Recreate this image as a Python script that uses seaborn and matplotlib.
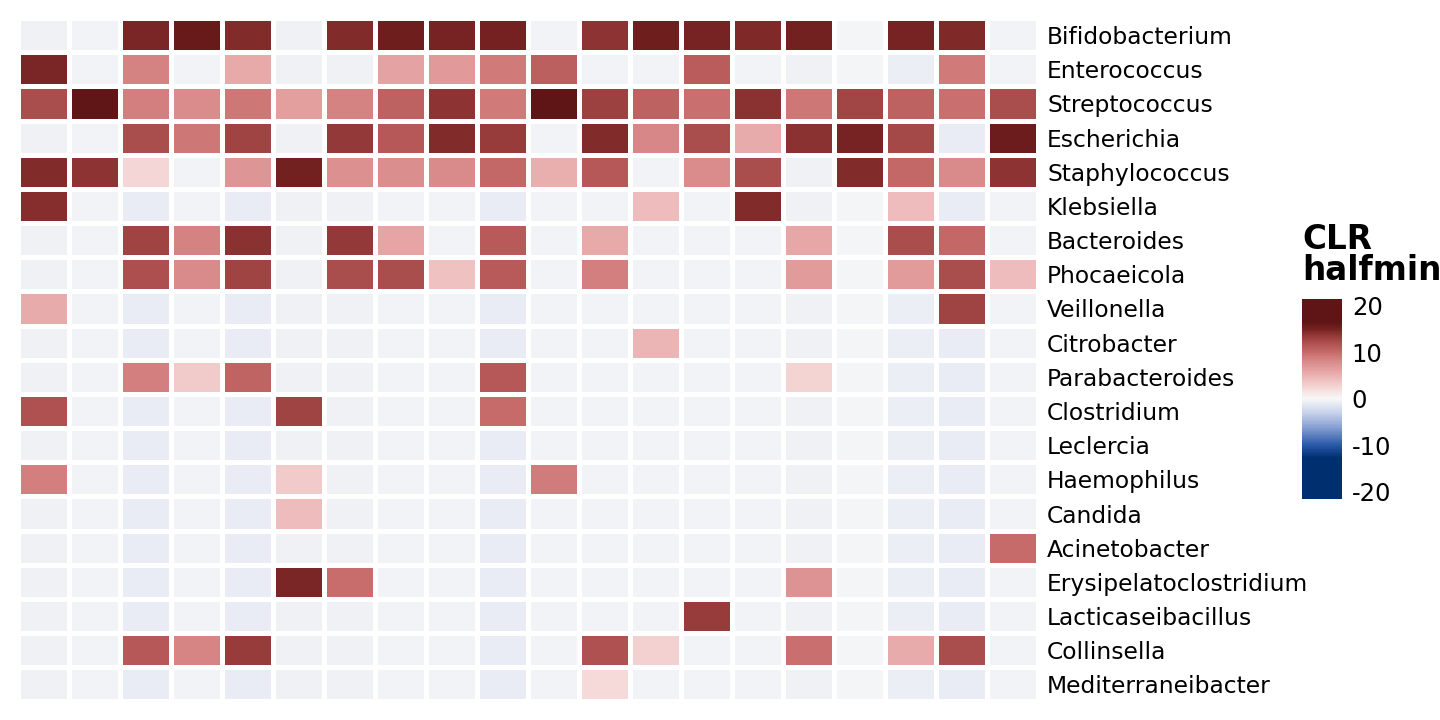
import numpy as np
import pandas as pd
import seaborn as sns
import matplotlib.pyplot as plt
from matplotlib.colors import LinearSegmentedColormap

genera = ["Bifidobacterium", "Enterococcus", "Streptococcus", "Escherichia",
          "Staphylococcus", "Klebsiella", "Bacteroides", "Phocaeicola",
          "Veillonella", "Citrobacter", "Parabacteroides", "Clostridium",
          "Leclercia", "Haemophilus", "Candida", "Acinetobacter",
          "Erysipelatoclostridium", "Lacticaseibacillus", "Collinsella",
          "Mediterraneibacter"]

# CLR (half-min zero replacement) per sample, 20 samples
bifidobacterium = [-0.6, -0.5, 14.7, 15.9, 14.3, -0.6, 14.3, 15.4, 14.9, 15.0, -0.5, 13.9, 15.3, 14.9, 14.6, 15.2, -0.3, 14.9, 14.5, -0.5]
enterococcus = [14.7, -0.5, 8.5, -0.5, 5.6, -0.6, -0.6, 6.2, 6.8, 9.0, 10.9, -0.5, -0.5, 11.0, -0.5, -0.6, -0.3, -0.7, 9.0, -0.5]
streptococcus = [12.1, 16.4, 8.6, 7.8, 9.1, 6.5, 8.5, 10.6, 13.8, 9.0, 21.5, 13.1, 10.6, 9.6, 14.0, 9.1, 12.7, 10.6, 9.7, 12.2]
escherichia = [-0.6, -0.5, 12.2, 9.1, 12.9, -0.6, 13.6, 11.3, 14.3, 13.4, -0.5, 14.3, 8.1, 12.2, 5.4, 14.0, 14.9, 12.5, -0.9, 15.5]
staphylococcus = [14.4, 13.8, 2.5, -0.5, 7.2, 15.2, 7.4, 7.6, 8.0, 10.2, 5.3, 11.4, -0.5, 7.8, 12.1, -0.6, 14.3, 10.2, 8.0, 13.9]
klebsiella = [14.2, -0.5, -1.0, -0.5, -1.0, -0.6, -0.6, -0.5, -0.5, -1.0, -0.5, -0.5, 4.3, -0.45, 14.3, -0.6, -0.3, 4.3, -0.9, -0.5]
bacteroides = [-0.6, -0.5, 12.8, 8.4, 14.1, -0.6, 13.5, 6.0, -0.5, 11.1, -0.5, 5.6, -0.5, -0.45, -0.5, 5.8, -0.3, 12.1, 10.2, -0.5]
phocaeicola = [-0.6, -0.5, 12.0, 7.9, 12.9, -0.6, 12.1, 12.2, 4.0, 11.1, -0.5, 8.6, -0.5, -0.45, -0.5, 6.7, -0.3, 6.7, 12.1, 4.3]
veillonella = [5.5, -0.5, -1.0, -0.5, -1.0, -0.6, -0.6, -0.5, -0.5, -1.0, -0.5, -0.5, -0.5, -0.45, -0.5, -0.6, -0.3, -0.7, 12.9, -0.5]
citrobacter = [-0.6, -0.5, -1.0, -0.5, -1.0, -0.6, -0.6, -0.5, -0.5, -1.0, -0.5, -0.5, 4.8, -0.45, -0.5, -0.6, -0.3, -0.7, -0.9, -0.5]
parabacteroides = [-0.6, -0.5, 8.6, 3.2, 10.5, -0.6, -0.6, -0.5, -0.5, 11.3, -0.5, -0.5, -0.5, -0.45, -0.5, 2.6, -0.3, -0.7, -0.9, -0.5]
clostridium = [11.8, -0.5, -1.0, -0.5, -1.0, 12.9, -0.6, -0.5, -0.5, 10.0, -0.5, -0.5, -0.5, -0.45, -0.5, -0.6, -0.3, -0.7, -0.9, -0.5]
leclercia = [-0.6, -0.5, -1.0, -0.5, -1.0, -0.6, -0.6, -0.5, -0.5, -1.0, -0.5, -0.5, -0.5, -0.45, -0.5, -0.6, -0.3, -0.7, -0.9, -0.5]
haemophilus = [8.6, -0.5, -1.0, -0.5, -1.0, 3.2, -0.6, -0.5, -0.5, -1.0, 8.8, -0.5, -0.5, -0.45, -0.5, -0.6, -0.3, -0.7, -0.9, -0.5]
candida = [-0.6, -0.5, -1.0, -0.5, -1.0, 4.3, -0.6, -0.5, -0.5, -1.0, -0.5, -0.5, -0.5, -0.45, -0.5, -0.6, -0.3, -0.7, -0.9, -0.5]
acinetobacter = [-0.6, -0.5, -1.0, -0.5, -1.0, -0.6, -0.6, -0.5, -0.5, -1.0, -0.5, -0.5, -0.5, -0.45, -0.5, -0.6, -0.3, -0.7, -0.9, 10.0]
erysipelatoclostridium = [-0.6, -0.5, -1.0, -0.5, -1.0, 14.7, 9.8, -0.5, -0.5, -1.0, -0.5, -0.5, -0.5, -0.45, -0.5, 7.3, -0.3, -0.7, -0.9, -0.5]
lacticaseibacillus = [-0.6, -0.5, -1.0, -0.5, -1.0, -0.6, -0.6, -0.5, -0.5, -1.0, -0.5, -0.5, -0.5, 13.3, -0.5, -0.6, -0.3, -0.7, -0.9, -0.5]
collinsella = [-0.6, -0.5, 11.4, 8.3, 13.4, -0.6, -0.6, -0.5, -0.5, -1.0, -0.5, 11.8, 2.8, -0.45, -0.5, 9.7, -0.3, 5.5, 12.1, -0.5]
mediterraneibacter = [-0.6, -0.5, -1.0, -0.5, -1.0, -0.6, -0.6, -0.5, -0.5, -1.0, -0.5, 2.1, -0.5, -0.45, -0.5, -0.6, -0.3, -0.7, -0.9, -0.5]

rows = [bifidobacterium, enterococcus, streptococcus, escherichia, staphylococcus,
        klebsiella, bacteroides, phocaeicola, veillonella, citrobacter,
        parabacteroides, clostridium, leclercia, haemophilus, candida,
        acinetobacter, erysipelatoclostridium, lacticaseibacillus, collinsella,
        mediterraneibacter]
df = pd.DataFrame(rows, index=genera, columns=[f"S{i+1}" for i in range(20)])

lim = 21.5
stops = [(-21.5, "#002f70"), (-12.8, "#002f70"), (-10, "#2a58a8"), (-6, "#8ba3d3"),
         (-3, "#c8d2eb"), (0, "#f8f8f8"), (2, "#f6dcdc"), (4, "#efc0c0"),
         (6, "#e6a4a4"), (8, "#d98a8a"), (10, "#c76a6a"), (12, "#ae5050"),
         (13.5, "#963a3a"), (15, "#762222"), (16.5, "#5f1415"), (21.5, "#5f1415")]
cmap = LinearSegmentedColormap.from_list(
    "bluered", [((v + lim) / (2 * lim), c) for v, c in stops])

sns.set_style("white")
plt.rcParams['font.family'] = ['DejaVu Sans']
plt.rcParams['axes.unicode_minus'] = False
plt.rcParams['text.color'] = 'black'

fig = plt.figure(figsize=(14.4, 7.2), dpi=100)
ax = fig.add_axes([0.0125, 0.0257, 0.708, 0.9493])
cax = fig.add_axes([0.9042, 0.3074, 0.0278, 0.2778])

sns.heatmap(df, ax=ax, cmap=cmap, vmin=-lim, vmax=lim, linewidths=3.5,
            linecolor="white", xticklabels=False, yticklabels=True,
            cbar_ax=cax, cbar_kws={"ticks": [-20, -10, 0, 10, 20]})

ax.yaxis.tick_right()
ax.tick_params(axis="y", length=0, pad=7, labelsize=16.8, rotation=0,
               labelcolor="black")
ax.set_xlabel("")
ax.set_ylabel("")

cbar = ax.collections[0].colorbar
cbar.outline.set_visible(False)
cax.tick_params(direction="in", color="white", length=6, width=1.5,
                left=True, right=True, labelsize=17.5, pad=7, labelcolor="black")
cax.text(0.0, 1.06, "CLR\nhalfmin", transform=cax.transAxes, ha="left",
         va="bottom", fontsize=23.5, fontweight="bold", linespacing=0.92)

fig.savefig("out.png", dpi=100)
